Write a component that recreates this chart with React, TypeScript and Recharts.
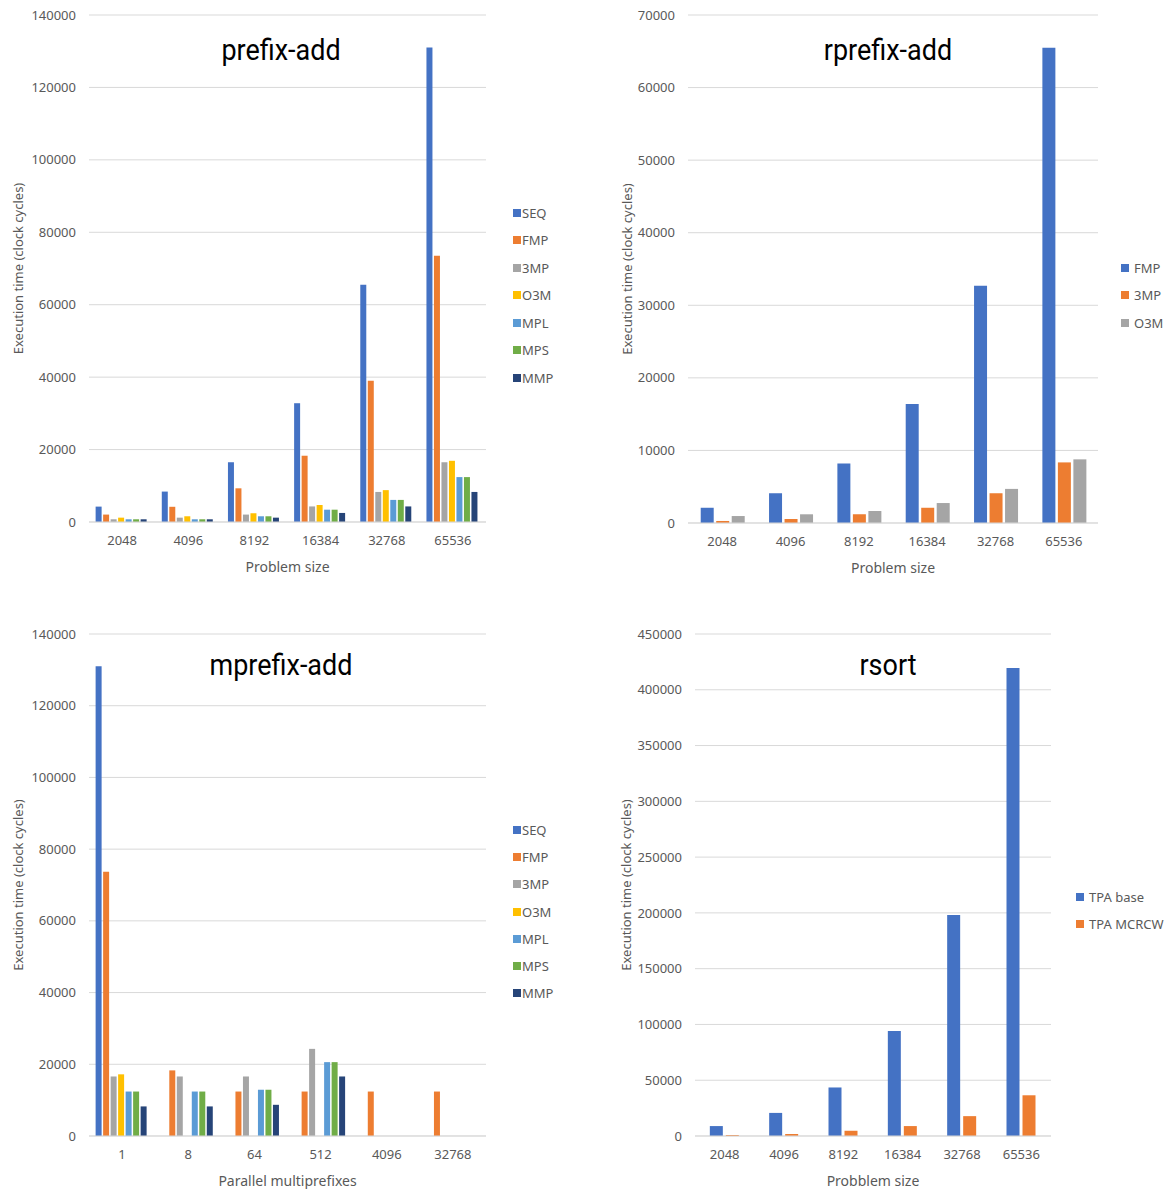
import { BarChart, Bar, XAxis, YAxis, CartesianGrid, Legend } from 'recharts';

// categories
const problemSizes = ['2048', '4096', '8192', '16384', '32768', '65536'];
const multiprefixes = ['1', '8', '64', '512', '4096', '32768'];

// prefix-add
const prefixSeq = [4250, 8400, 16500, 32800, 65500, 131000];
const prefixFmp = [2050, 4200, 9300, 18300, 39000, 73500];
const prefix3mp = [750, 1200, 2050, 4300, 8300, 16500];
const prefixO3m = [1200, 1580, 2400, 4700, 8800, 16900];
const prefixMpl = [750, 750, 1580, 3400, 6100, 12400];
const prefixMps = [750, 750, 1580, 3400, 6100, 12400];
const prefixMmp = [750, 750, 1200, 2500, 4300, 8300];

// rprefix-add
const rprefixFmp = [2100, 4100, 8200, 16400, 32700, 65500];
const rprefix3mp = [280, 550, 1200, 2100, 4100, 8350];
const rprefixO3m = [960, 1200, 1650, 2750, 4700, 8770];

// mprefix-add
const mprefixSeq = [131000, null, null, null, null, null];
const mprefixFmp = [73700, 18300, 12400, 12400, 12400, 12400];
const mprefix3mp = [16600, 16600, 16600, 24300, null, null];
const mprefixO3m = [17200, null, null, null, null, null];
const mprefixMpl = [12400, 12400, 12900, 20600, null, null];
const mprefixMps = [12400, 12400, 12900, 20600, null, null];
const mprefixMmp = [8250, 8250, 8700, 16600, null, null];

// rsort
const rsortBase = [8900, 20700, 43500, 94100, 198000, 419500];
const rsortMcrcw = [900, 1800, 4700, 8900, 17800, 36500];

// tick labels
const ticks140k = [0, 20000, 40000, 60000, 80000, 100000, 120000, 140000];
const ticks70k = [0, 10000, 20000, 30000, 40000, 50000, 60000, 70000];
const ticks450k = [0, 50000, 100000, 150000, 200000, 250000, 300000, 350000, 400000, 450000];

const COLORS = {
  SEQ: '#4472C4',
  FMP: '#ED7D31',
  '3MP': '#A5A5A5',
  O3M: '#FFC000',
  MPL: '#5B9BD5',
  MPS: '#70AD47',
  MMP: '#264478',
};

const seven = ['SEQ', 'FMP', '3MP', 'O3M', 'MPL', 'MPS', 'MMP'] as const;
const three = ['FMP', '3MP', 'O3M'];
const two = ['TPA base', 'TPA MCRCW'];

const prefixData = problemSizes.map((size, i) => ({
  size,
  SEQ: prefixSeq[i],
  FMP: prefixFmp[i],
  '3MP': prefix3mp[i],
  O3M: prefixO3m[i],
  MPL: prefixMpl[i],
  MPS: prefixMps[i],
  MMP: prefixMmp[i],
}));

const rprefixData = problemSizes.map((size, i) => ({
  size,
  FMP: rprefixFmp[i],
  '3MP': rprefix3mp[i],
  O3M: rprefixO3m[i],
}));

const mprefixData = multiprefixes.map((size, i) => ({
  size,
  SEQ: mprefixSeq[i],
  FMP: mprefixFmp[i],
  '3MP': mprefix3mp[i],
  O3M: mprefixO3m[i],
  MPL: mprefixMpl[i],
  MPS: mprefixMps[i],
  MMP: mprefixMmp[i],
}));

const rsortData = problemSizes.map((size, i) => ({
  size,
  base: rsortBase[i],
  mcrcw: rsortMcrcw[i],
}));

const FONT = '"Noto Sans", "Open Sans", sans-serif';
const TITLE_FONT = 'Roboto, "Liberation Sans", sans-serif';
const TEXT = '#595959';
const GRID = '#d9d9d9';

// legend keeps the series order instead of sorting by name
function legendContent(order: readonly string[], gap: number, rowHeight: number) {
  return (props: any) => {
    const items = [...(props.payload || [])].sort(
      (a: any, b: any) => order.indexOf(a.value) - order.indexOf(b.value),
    );
    return (
      <div style={{ fontFamily: FONT, fontSize: 13, color: TEXT }}>
        {items.map((p: any) => (
          <div key={p.value} style={{ display: 'flex', alignItems: 'center', height: rowHeight }}>
            <span style={{ width: 8, height: 8, background: p.color, marginRight: gap, display: 'inline-block' }} />
            <span>{p.value}</span>
          </div>
        ))}
      </div>
    );
  };
}

function Title({ text, cx, top }: { text: string; cx: number; top: number }) {
  return (
    <div
      style={{
        position: 'absolute',
        left: cx - 150,
        top,
        width: 300,
        textAlign: 'center',
        fontFamily: TITLE_FONT,
        fontSize: 29,
        color: '#000',
        lineHeight: '30px',
        transform: 'scaleX(0.93)',
        pointerEvents: 'none',
      }}
    >
      {text}
    </div>
  );
}

const yLabel = (offset: number) => ({
  value: 'Execution time (clock cycles)',
  angle: -90,
  position: 'insideLeft' as const,
  offset,
  fill: TEXT,
  fontSize: 13,
  fontFamily: FONT,
  style: { textAnchor: 'middle' },
});

const xLabel = (value: string) => ({
  value,
  position: 'insideBottom' as const,
  offset: 0,
  fill: TEXT,
  fontSize: 14,
  fontFamily: FONT,
});

const yTick = { fill: TEXT, fontSize: 13, fontFamily: FONT };
const xTick = { fill: TEXT, fontSize: 13, fontFamily: FONT };

export default function App() {
  return (
    <div style={{ position: 'absolute', left: 0, top: 0, width: 1169, height: 1189, background: '#fff', overflow: 'hidden' }}>
      {/* prefix-add */}
      <div style={{ position: 'absolute', left: 0, top: 0 }}>
        <BarChart width={590} height={590} data={prefixData} margin={{ top: 15, right: 104, bottom: 18, left: 0 }}
          barCategoryGap="10%" barGap={1.5}>
          <CartesianGrid vertical={false} stroke={GRID} />
          <XAxis dataKey="size" tickLine={false} axisLine={{ stroke: GRID }} tick={xTick} tickMargin={8} height={50}
            label={xLabel('Problem size')} />
          <YAxis width={89} domain={[0, 140000]} ticks={ticks140k} axisLine={false} tickLine={false} tick={yTick}
            tickMargin={7} label={yLabel(18)} />
          <Legend layout="vertical" align="center" verticalAlign="middle" content={legendContent(seven, 1, 27.5)}
            wrapperStyle={{ left: 513, top: 199, width: 'auto' }} />
          {seven.map((k) => (
            <Bar key={k} dataKey={k} name={k} fill={COLORS[k]} isAnimationActive={false} />
          ))}
        </BarChart>
        <Title text="prefix-add" cx={280.5} top={35} />
      </div>

      {/* rprefix-add */}
      <div style={{ position: 'absolute', left: 600, top: 0 }}>
        <BarChart width={569} height={590} data={rprefixData} margin={{ top: 15, right: 71, bottom: 17, left: 0 }}
          barCategoryGap="18.6%" barGap={2.5}>
          <CartesianGrid vertical={false} stroke={GRID} />
          <XAxis dataKey="size" tickLine={false} axisLine={{ stroke: GRID }} tick={xTick} tickMargin={8} height={50}
            label={xLabel('Problem size')} />
          <YAxis width={88} domain={[0, 70000]} ticks={ticks70k} axisLine={false} tickLine={false} tick={yTick}
            tickMargin={7} label={yLabel(27)} />
          <Legend layout="vertical" align="center" verticalAlign="middle" content={legendContent(three, 5, 27.5)}
            wrapperStyle={{ left: 521, top: 254, width: 'auto' }} />
          <Bar dataKey="FMP" name="FMP" fill={COLORS.SEQ} isAnimationActive={false} />
          <Bar dataKey="3MP" name="3MP" fill={COLORS.FMP} isAnimationActive={false} />
          <Bar dataKey="O3M" name="O3M" fill={COLORS['3MP']} isAnimationActive={false} />
        </BarChart>
        <Title text="rprefix-add" cx={288} top={35} />
      </div>

      {/* mprefix-add */}
      <div style={{ position: 'absolute', left: 0, top: 619 }}>
        <BarChart width={590} height={570} data={mprefixData} margin={{ top: 15, right: 104, bottom: 3, left: 0 }}
          barCategoryGap="10%" barGap={1.5}>
          <CartesianGrid vertical={false} stroke={GRID} />
          <XAxis dataKey="size" tickLine={false} axisLine={{ stroke: GRID }} tick={xTick} tickMargin={8} height={50}
            label={xLabel('Parallel multiprefixes')} />
          <YAxis width={89} domain={[0, 140000]} ticks={ticks140k} axisLine={false} tickLine={false} tick={yTick}
            tickMargin={7} label={yLabel(18)} />
          <Legend layout="vertical" align="center" verticalAlign="middle" content={legendContent(seven, 1, 27.3)}
            wrapperStyle={{ left: 513, top: 197, width: 'auto' }} />
          {seven.map((k) => (
            <Bar key={k} dataKey={k} name={k} fill={COLORS[k]} isAnimationActive={false} />
          ))}
        </BarChart>
        <Title text="mprefix-add" cx={280.5} top={30.5} />
      </div>

      {/* rsort */}
      <div style={{ position: 'absolute', left: 600, top: 619 }}>
        <BarChart width={569} height={570} data={rsortData} margin={{ top: 15, right: 118, bottom: 3, left: 0 }}
          barCategoryGap="25%" barGap={3}>
          <CartesianGrid vertical={false} stroke={GRID} />
          <XAxis dataKey="size" tickLine={false} axisLine={{ stroke: GRID }} tick={xTick} tickMargin={8} height={50}
            label={xLabel('Probblem size')} />
          <YAxis width={95} domain={[0, 450000]} ticks={ticks450k} axisLine={false} tickLine={false} tick={yTick}
            tickMargin={7} label={yLabel(26)} />
          <Legend layout="vertical" align="center" verticalAlign="middle" content={legendContent(two, 5, 27)}
            wrapperStyle={{ left: 476, top: 264, width: 'auto' }} />
          <Bar dataKey="base" name="TPA base" fill={COLORS.SEQ} isAnimationActive={false} />
          <Bar dataKey="mcrcw" name="TPA MCRCW" fill={COLORS.FMP} isAnimationActive={false} />
        </BarChart>
        <Title text="rsort" cx={287.5} top={30.5} />
      </div>
    </div>
  );
}
